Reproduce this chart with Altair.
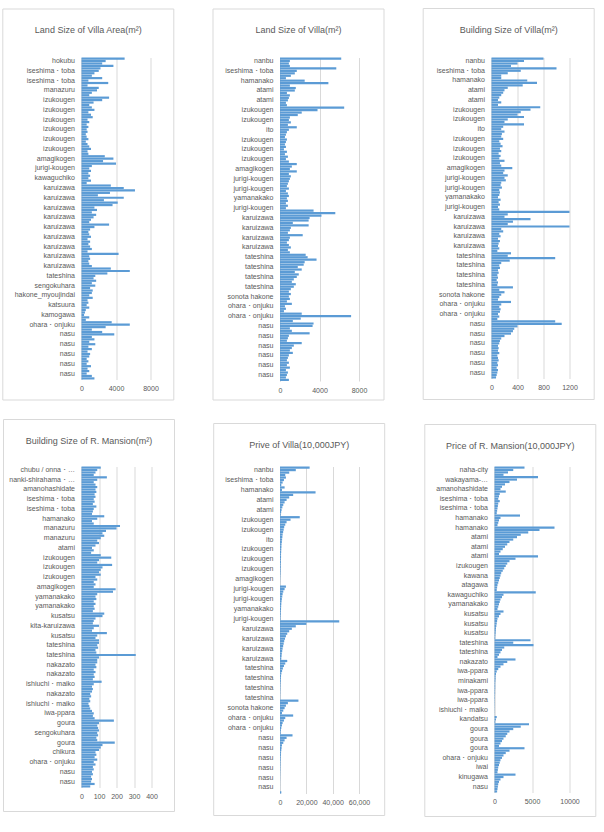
import json
import altair as alt
import pandas as pd

BAR_BLUE = "#5B9BD5"
GRID = "#d9d9d9"
TEXT = "#595959"
FONT = "Liberation Sans"
PER_LABEL = 4  # bars per labelled category step

# ---- Land Size of Villa Area (m2) ----
land_area_labels = [
    "hokubu", "iseshima・toba", "iseshima・toba", "manazuru",
    "izukougen", "izukougen", "izukougen", "izukougen", "izukougen", "izukougen",
    "amagikogen", "jurigi-kougen", "kawaguchiko",
    "karuizawa", "karuizawa", "karuizawa", "karuizawa", "karuizawa",
    "karuizawa", "karuizawa", "karuizawa", "karuizawa",
    "tateshina", "sengokuhara", "hakone_myoujindai", "katsuura", "kamogawa",
    "ohara・onjuku", "nasu", "nasu", "nasu", "nasu", "nasu",
]
land_area_values = [
    5000, 2800, 2400, 3700,
    2200, 2000, 1500, 1200,
    2400, 800, 3100, 700,
    2000, 1800, 1200, 900,
    3200, 2400, 1400, 900,
    1200, 1500, 800, 1100,
    1300, 700, 900, 600,
    800, 600, 700, 500,
    600, 800, 500, 700,
    900, 1100, 700, 800,
    2700, 3700, 2500, 4000,
    1200, 900, 1100, 800,
    1000, 800, 1100, 600,
    3400, 4900, 6200, 3300,
    1900, 4900, 2600, 4200,
    3600, 1500, 1800, 1200,
    1700, 1400, 1100, 900,
    3200, 1500, 1000, 800,
    900, 1100, 700, 1000,
    800, 1000, 1200, 700,
    4300, 900, 1000, 800,
    900, 1200, 3400, 5600,
    3000, 1600, 1400, 1700,
    1200, 1600, 1000, 1300,
    1200, 900, 1300, 700,
    800, 600, 900, 500,
    400, 300, 900, 500,
    3500, 5600, 2800, 1200,
    2400, 3800, 1200, 1500,
    900, 1600, 800, 1200,
    700, 1000, 900, 600,
    800, 600, 1100, 700,
    900, 600, 1200, 1500,
]

# ---- Villa listings (shared category order) ----
villa_labels = [
    "nanbu", "iseshima・toba", "hamanako", "atami", "atami",
    "izukougen", "izukougen", "ito", "izukougen", "izukougen", "izukougen",
    "amagikogen", "jurigi-kougen", "jurigi-kougen", "yamanakako", "jurigi-kougen",
    "karuizawa", "karuizawa", "karuizawa", "karuizawa",
    "tateshina", "tateshina", "tateshina", "tateshina",
    "sonota hakone", "ohara・onjuku", "ohara・onjuku",
    "nasu", "nasu", "nasu", "nasu", "nasu", "nasu",
]
villa_land_values = [
    6200, 1000, 900, 1000,
    5700, 1700, 1500, 1100,
    600, 2500, 4900, 1000,
    1600, 1500, 700, 1000,
    900, 800, 600, 700,
    6500, 3800, 2200, 1800,
    1000, 900, 1100, 800,
    1700, 900, 700, 600,
    500, 700, 600, 500,
    600, 400, 700, 500,
    800, 600, 900, 1700,
    1200, 1000, 1700, 900,
    1100, 1000, 900, 800,
    700, 900, 600, 800,
    900, 700, 800, 600,
    800, 600, 3400, 5600,
    4200, 3000, 2900, 1300,
    2900, 1100, 1000, 800,
    2300, 1000, 900, 700,
    900, 1100, 800, 1000,
    2600, 2800, 3700, 2500,
    2400, 1800, 2200, 1500,
    1900, 1700, 1400, 1200,
    1600, 1400, 1100, 900,
    1100, 900, 1000, 700,
    1200, 500, 600, 400,
    2200, 7200, 2100, 1300,
    3400, 3300, 1000, 1200,
    3000, 900, 800, 700,
    2200, 1400, 1200, 1000,
    1300, 900, 800, 700,
    900, 700, 1000, 600,
    800, 700, 600, 900,
]
villa_building_values = [
    800, 500, 400, 300,
    1000, 450, 250, 150,
    150, 550, 700, 480,
    250, 200, 180, 150,
    120, 100, 150, 100,
    750, 600, 450, 400,
    500, 250, 200, 500,
    180, 150, 200, 160,
    150, 180, 120, 140,
    170, 130, 150, 110,
    140, 120, 200, 130,
    150, 320, 200, 180,
    250, 200, 220, 150,
    140, 160, 120, 130,
    120, 100, 140, 110,
    130, 100, 120, 1200,
    250, 200, 600, 330,
    250, 1200, 150, 180,
    120, 140, 100, 130,
    110, 100, 120, 90,
    300, 250, 980, 280,
    150, 120, 130, 100,
    110, 90, 100, 80,
    100, 90, 330, 120,
    200, 150, 120, 100,
    300, 150, 120, 140,
    130, 100, 120, 90,
    980, 1080, 400, 350,
    330, 300, 200, 150,
    130, 120, 100, 110,
    100, 120, 90, 100,
    110, 90, 100, 80,
    100, 90, 80, 70,
]
villa_price_values = [
    22500, 12000, 7000, 4000,
    4500, 3000, 2000, 1000,
    3500, 1500, 27000, 10000,
    7000, 5000, 3500, 2500,
    1800, 1200, 900, 600,
    15000, 8000, 5000, 4000,
    3200, 2800, 2400, 2000,
    1800, 1600, 1400, 1200,
    1100, 1000, 900, 800,
    800, 700, 700, 600,
    600, 500, 500, 400,
    300, 200, 150, 100,
    4500, 3500, 2500, 2000,
    1700, 1400, 1200, 1000,
    900, 800, 700, 600,
    500, 400, 45000, 20000,
    12000, 9000, 7000, 5500,
    4500, 3800, 3200, 2800,
    2400, 2000, 1700, 1400,
    1200, 1000, 5500, 4000,
    3000, 2200, 1600, 1100,
    800, 700, 600, 500,
    400, 350, 300, 250,
    200, 150, 14000, 6000,
    4500, 3500, 2500, 1500,
    10000, 4000, 3000, 2000,
    1500, 1000, 700, 500,
    9500, 5000, 3500, 2500,
    1500, 1200, 1000, 800,
    700, 600, 500, 450,
    400, 350, 300, 250,
    200, 150, 120, 100,
    80, 60, 50, 1000,
]

# ---- Resort mansion building size (m2) ----
mansion_size_labels = [
    "chubu / onna・…", "nanki-shirahama・…", "amanohashidate",
    "iseshima・toba", "iseshima・toba", "hamanako", "manazuru", "manazuru", "atami",
    "izukougen", "izukougen", "izukougen", "amagikogen", "yamanakako", "yamanakako",
    "kusatsu", "kita-karuizawa", "kusatsu", "tateshina", "tateshina",
    "nakazato", "nakazato", "ishiuchi・maiko", "nakazato", "ishiuchi・maiko",
    "iwa-ppara", "goura", "sengokuhara", "goura", "chikura", "ohara・onjuku",
    "nasu", "nasu",
]
mansion_size_values = [
    110, 90, 80, 70,
    145, 90, 70, 80,
    90, 80, 85, 75,
    80, 70, 75, 65,
    85, 70, 65, 60,
    130, 90, 60, 70,
    220, 200, 140, 120,
    130, 110, 90, 100,
    80, 60, 70, 55,
    110, 170, 100, 90,
    175, 120, 110, 100,
    110, 80, 90, 70,
    80, 70, 195, 180,
    90, 80, 85, 70,
    80, 70, 75, 65,
    130, 120, 80, 70,
    65, 100, 70, 60,
    145, 90, 80, 100,
    100, 90, 95, 80,
    85, 310, 100, 90,
    90, 80, 85, 70,
    80, 70, 75, 65,
    115, 70, 60, 65,
    60, 50, 55, 45,
    50, 40, 45, 50,
    60, 70, 65, 75,
    185, 100, 90, 95,
    100, 90, 95, 85,
    90, 190, 120, 110,
    100, 80, 85, 75,
    90, 70, 80, 65,
    70, 60, 65, 55,
    60, 55, 75, 50,
]

# ---- Resort mansion price (10,000 JPY) ----
mansion_price_labels = [
    "naha-city", "wakayama-…", "amanohashidate", "iseshima・toba", "iseshima・toba",
    "hamanako", "hamanako", "atami", "atami", "atami", "izukougen", "kawana",
    "atagawa", "kawaguchiko", "yamanakako", "kusatsu", "kusatsu", "kusatsu",
    "tateshina", "tateshina", "nakazato", "iwa-ppara", "minakami", "iwa-ppara",
    "iwa-ppara", "ishiuchi・maiko", "kandatsu", "goura", "goura", "goura",
    "ohara・onjuku", "iwai", "kinugawa", "nasu",
]
mansion_price_values = [
    4000, 2500, 1800, 1200,
    5800, 3000, 2000, 1400,
    1000, 800, 1500, 700,
    600, 500, 700, 500,
    450, 400, 350, 300,
    3400, 800, 600, 500,
    400, 8000, 6000, 4500,
    3500, 3000, 2500, 2000,
    1700, 1400, 1100, 800,
    600, 5800, 2800, 2000,
    1700, 1500, 1300, 1100,
    900, 800, 700, 600,
    500, 400, 350, 300,
    5500, 1200, 1000, 800,
    700, 600, 500, 400,
    1200, 800, 600, 400,
    350, 300, 250, 200,
    180, 150, 120, 100,
    4800, 2500, 5200, 1300,
    1000, 800, 600, 400,
    2800, 1700, 1200, 800,
    500, 300, 200, 150,
    150, 120, 100, 100,
    100, 80, 80, 60,
    60, 50, 50, 40,
    40, 30, 30, 20,
    300, 200, 100, 4600,
    3500, 2500, 2000, 1700,
    1500, 1200, 1000, 800,
    600, 4000, 2000, 1500,
    1200, 1000, 800, 700,
    600, 500, 450, 400,
    2800, 1200, 800, 600,
    500, 450, 400, 350,
]


def panel(title, labels, values, xmax, ticks, fmt, frame, plot_w, plot_h):
    """One bordered bar-chart panel. frame = (left, top, right, bottom) margins of the border."""
    left, top, right, bottom = frame
    n = len(values)
    data = pd.DataFrame({"row": list(range(n)), "value": values})
    label_list = json.dumps(labels, ensure_ascii=False)
    label_expr = (
        f"datum.value % {PER_LABEL} == 1 ? {label_list}[floor(datum.value / {PER_LABEL})] : ''"
    )

    bars = alt.Chart(data).mark_bar(color=BAR_BLUE).encode(
        x=alt.X(
            "value:Q",
            scale=alt.Scale(domain=[0, xmax], nice=False),
            axis=alt.Axis(
                values=ticks, format=fmt, title=None, grid=True, gridColor=GRID,
                gridWidth=1, domain=False, ticks=False, labelFontSize=7,
                labelColor=TEXT, labelFont=FONT, labelPadding=5, labelFlush=False,
            ),
        ),
        y=alt.Y(
            "row:O",
            scale=alt.Scale(domain=list(range(n)), paddingInner=0.1, paddingOuter=0),
            axis=alt.Axis(
                title=None, ticks=False, domain=True, domainColor=GRID,
                labelExpr=label_expr, labelFontSize=7, labelColor=TEXT,
                labelFont=FONT, labelPadding=7, labelLimit=70, labelOverlap=False,
            ),
        ),
    )

    one = pd.DataFrame({"k": [0]})
    border = alt.Chart(one).mark_rect(
        fill="white", fillOpacity=0, stroke=GRID, strokeWidth=1
    ).encode(
        x=alt.value(-left), x2=alt.value(plot_w + right),
        y=alt.value(-top), y2=alt.value(plot_h + bottom),
    )
    heading = alt.Chart(one).mark_text(
        font=FONT, fontSize=9, color=TEXT, align="center", baseline="middle"
    ).encode(
        x=alt.value((left + plot_w + right) / 2 - left),
        y=alt.value(21 - top),
        text=alt.value(title),
    )
    return alt.layer(border, bars, heading).properties(width=plot_w, height=plot_h)


p1 = panel("Land Size of Villa Area(m²)", land_area_labels, land_area_values,
           8000, [0, 4000, 8000], "d", (78.7, 48.5, 23.3, 20.5), 69, 322)
p2 = panel("Land Size of Villa(m²)", villa_labels, villa_land_values,
           8000, [0, 4000, 8000], "d", (67, 48.5, 25, 19), 79, 323.5)
p3 = panel("Building Size of Villa(m²)", villa_labels, villa_building_values,
           1200, [0, 400, 800, 1200], "d", (68.3, 49, 24.7, 21), 78, 321)
p4 = panel("Building Size of R. Mansion(m²)", mansion_size_labels, mansion_size_values,
           400, [0, 100, 200, 300, 400], "d", (78, 47, 23, 24), 70, 321)
p5 = panel("Prive of Villa(10,000JPY)", villa_labels, villa_price_values,
           60000, [0, 20000, 40000, 60000], ",d", (66.3, 43, 25.7, 22), 79, 327)
p6 = panel("Price of R. Mansion(10,000JPY)", mansion_price_labels, mansion_price_values,
           10000, [0, 5000, 10000], "d", (69.7, 42, 26.3, 24), 75, 326)

chart = alt.vconcat(
    alt.hconcat(p1, p2, p3, spacing=37.5),
    alt.hconcat(p4, p5, p6, spacing=37.5),
    spacing=18,
).properties(
    padding={"left": 1.5, "top": 7.5, "right": 0, "bottom": 0},
    background="white",
).configure_view(strokeWidth=0)

chart.save("out.html", embed_options={"renderer": "svg", "actions": False})
